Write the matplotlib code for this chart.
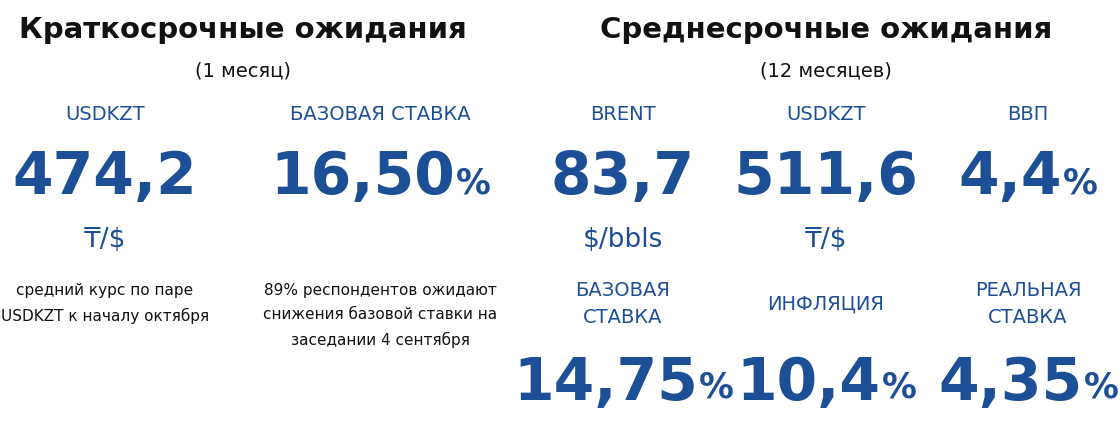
import matplotlib
matplotlib.use('Agg')
import matplotlib.pyplot as plt

blue = '#1d4f96'
fam = ['DejaVu Sans', 'Noto Sans']

headers = ['Краткосрочные ожидания', 'Среднесрочные ожидания']
subheaders = ['(1 месяц)', '(12 месяцев)']
header_x = [243, 826]

top_labels = ['USDKZT', 'БАЗОВАЯ СТАВКА', 'BRENT', 'USDKZT', 'ВВП']
top_values = ['474,2', '16,50', '83,7', '511,6', '4,4']
top_pct = [False, True, False, False, True]
top_units = ['₸/$', '', '$/bbls', '₸/$', '']
top_x = [105, 380, 623, 826, 1028]

notes = ['средний курс по паре\nUSDKZT к началу октября',
         '89% респондентов ожидают\nснижения базовой ставки на\nзаседании 4 сентября']

bottom_labels = ['БАЗОВАЯ\nСТАВКА', 'ИНФЛЯЦИЯ', 'РЕАЛЬНАЯ\nСТАВКА']
bottom_values = ['14,75', '10,4', '4,35']
bottom_x = [623, 826, 1028]

fig = plt.figure(figsize=(11.2, 4.41), dpi=100)
ax = fig.add_axes([0, 0, 1, 1])
ax.set_xlim(0, 1120)
ax.set_ylim(441, 0)
ax.axis('off')
fig.canvas.draw()
renderer = fig.canvas.get_renderer()


def big_number(x, y, val, pct):
    t = ax.text(x, y, val, ha='center', va='center', color=blue, fontsize=42,
                fontweight='bold', family=fam)
    if not pct:
        return
    p = ax.text(x, y + 5, '%', ha='left', va='center', color=blue, fontsize=25,
                fontweight='bold', family=fam)
    wt = t.get_window_extent(renderer).width
    wp = p.get_window_extent(renderer).width
    left = x - (wt + wp) / 2
    t.set_x(left + wt / 2)
    p.set_x(left + wt + 1)


for h, s, x in zip(headers, subheaders, header_x):
    ax.text(x, 30, h, ha='center', va='center', fontsize=21, fontweight='bold',
            family=fam, color='#111111')
    ax.text(x, 71, s, ha='center', va='center', fontsize=14,
            family=fam, color='#111111')

for lab, val, pct, unit, x in zip(top_labels, top_values, top_pct, top_units, top_x):
    ax.text(x, 114, lab, ha='center', va='center', fontsize=14, color=blue, family=fam)
    big_number(x, 178, val, pct)
    if unit:
        ax.text(x, 240, unit, ha='center', va='center', fontsize=19, color=blue, family=fam)

for note, x in zip(notes, top_x[:2]):
    ax.text(x, 283, note, ha='center', va='top', fontsize=11, linespacing=1.75,
            family=fam, color='#111111')

for lab, val, x in zip(bottom_labels, bottom_values, bottom_x):
    ax.text(x, 304, lab, ha='center', va='center', fontsize=14, color=blue,
            family=fam, linespacing=1.5)
    big_number(x, 383, val, True)

fig.savefig('out.png', dpi=100)
